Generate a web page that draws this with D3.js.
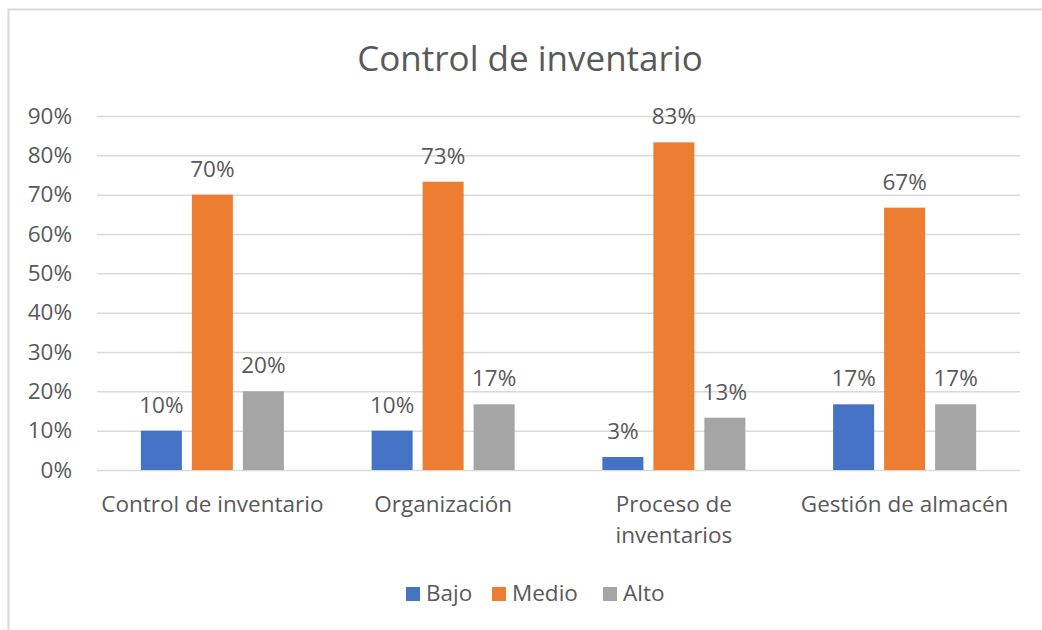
<!DOCTYPE html>
<html>
<head>
<meta charset="utf-8">
<script src="https://cdn.jsdelivr.net/npm/d3@7"></script>
<style>
  body { margin: 0; background: #fff; }
  text { font-family: "Open Sans", "Noto Sans", sans-serif; fill: #595959; }
</style>
</head>
<body>
<div id="chart"></div>
<script>
"use strict";

// Data
// ----

var categories = [["Control de inventario"], ["Organización"], ["Proceso de", "inventarios"], ["Gestión de almacén"]];
var series = ["Bajo", "Medio", "Alto"];
var colors = ["#4472c4", "#ed7d31", "#a5a5a5"];
var bajo  = [0.10, 0.10, 0.033, 0.167];
var medio = [0.70, 0.733, 0.833, 0.667];
var alto  = [0.20, 0.167, 0.133, 0.167];
var yTicks = [0, 0.1, 0.2, 0.3, 0.4, 0.5, 0.6, 0.7, 0.8, 0.9];

var values = [bajo, medio, alto];


// Box sizing

var W = 1042, H = 630,
    plotLeft = 97, plotRight = 1020,
    plotTop = 116, plotBottom = 470,
    fs = "22.5px";

var svg = d3.select("#chart").append("svg")
    .attr("width", W)
    .attr("height", H);

// Chart border (top and left edges visible in the crop)

svg.append("path")
    .attr("d", "M8.5,630 L8.5,9.5 L1042,9.5")
    .attr("fill", "none")
    .attr("stroke", "#d9d9d9")
    .attr("stroke-width", 2);

// Title

svg.append("text")
    .attr("x", 530)
    .attr("y", 71)
    .attr("text-anchor", "middle")
    .style("font-size", "35px")
    .text("Control de inventario");


// Scales

var x = d3.scaleBand().domain(d3.range(categories.length)).range([plotLeft, plotRight]);
var y = d3.scaleLinear().domain([0, 0.9]).range([plotBottom, plotTop]);
var barW = 41, gap = 10;


// Gridlines and y axis

var yAxis = d3.axisLeft(y)
    .tickValues(yTicks)
    .tickFormat(d3.format(".0%"))
    .tickSize(-(plotRight - plotLeft))
    .tickPadding(25);

svg.append("g")
    .attr("transform", "translate(" + plotLeft + ",0)")
    .call(yAxis)
    .call(function(g) {
      g.select(".domain").remove();
      g.selectAll("line").attr("stroke", "#d9d9d9").attr("stroke-width", 1.5);
      g.selectAll("text").style("font-size", fs).attr("fill", "#595959");
    });


// Bars and labels

series.forEach(function(s, j) {
  var g = svg.append("g");
  var cx = function(i) {
    return x(i) + x.bandwidth() / 2 + (j - 1) * (barW + gap);
  };

  g.selectAll("rect")
      .data(values[j])
      .join("rect")
      .attr("x", function(d, i) { return cx(i) - barW / 2; })
      .attr("y", function(d) { return y(d); })
      .attr("width", barW)
      .attr("height", function(d) { return plotBottom - y(d); })
      .attr("fill", colors[j]);

  g.selectAll("text")
      .data(values[j])
      .join("text")
      .attr("x", function(d, i) { return cx(i); })
      .attr("y", function(d) { return y(d) - 18; })
      .attr("text-anchor", "middle")
      .style("font-size", fs)
      .text(function(d) { return d3.format(".0%")(d); });
});


// Category labels

var cat = svg.append("g").selectAll("text")
    .data(categories)
    .join("text")
    .attr("x", function(d, i) { return x(i) + x.bandwidth() / 2; })
    .attr("y", 512)
    .attr("text-anchor", "middle")
    .style("font-size", fs);

cat.selectAll("tspan")
    .data(function(d) { return d; })
    .join("tspan")
    .attr("x", function() { return d3.select(this.parentNode).attr("x"); })
    .attr("dy", function(d, k) { return k ? 31 : 0; })
    .text(function(d) { return d; });


// Legend

var legendX = [406, 492, 603];
var legend = svg.append("g");

series.forEach(function(s, j) {
  legend.append("rect")
      .attr("x", legendX[j])
      .attr("y", 587)
      .attr("width", 14)
      .attr("height", 14)
      .attr("fill", colors[j]);
  legend.append("text")
      .attr("x", legendX[j] + 20)
      .attr("y", 601)
      .style("font-size", fs)
      .text(s);
});

</script>
</body>
</html>
